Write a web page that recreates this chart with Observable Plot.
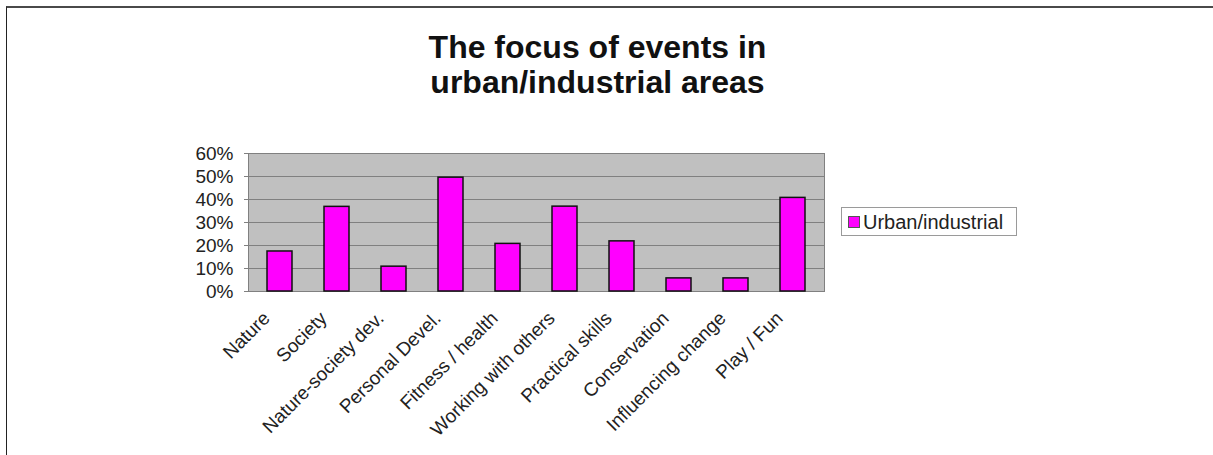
<!DOCTYPE html>
<html>
<head>
<meta charset="utf-8">
<script src="https://cdn.jsdelivr.net/npm/d3@7"></script>
<script src="https://cdn.jsdelivr.net/npm/@observablehq/plot@0.6"></script>
<style>
  html, body { margin: 0; padding: 0; background: #fff; }
  body { width: 1213px; height: 455px; overflow: hidden; position: relative; font-family: "Liberation Sans", Arial, sans-serif; }
  #border { position: absolute; left: 6px; top: 6px; right: -10px; bottom: -10px; border-top: 2px solid #4a4a4a; border-left: 1px solid #222; }
  #title { position: absolute; left: 0; width: 1195px; top: 30px; text-align: center; font-size: 32px; font-weight: bold; line-height: 35px; color: #111; }
  #chart { position: absolute; left: 0; top: 0; }
  #legend { position: absolute; left: 841px; top: 207px; width: 176px; height: 29px; box-sizing: border-box; border: 1px solid #9a9a9a; background: #fff; }
  #legend .sw { position: absolute; left: 6px; top: 8px; width: 12px; height: 12px; background: #ff00ff; border: 1px solid #555; box-sizing: border-box; }
  #legend .lb { position: absolute; left: 21px; top: 3px; font-size: 20px; line-height: 22px; color: #222; white-space: nowrap; }
</style>
</head>
<body>
<div id="border"></div>
<div id="title">The focus of events in<br>urban/industrial areas</div>
<div id="chart"></div>
<div id="legend"><div class="sw"></div><div class="lb" id="legendLabel"></div></div>
<script>
const categories = ["Nature", "Society", "Nature-society dev.", "Personal Devel.", "Fitness / health", "Working with others", "Practical skills", "Conservation", "Influencing change", "Play / Fun"];
const urbanIndustrial = [17.4, 36.8, 10.8, 49.5, 20.7, 36.9, 21.8, 5.7, 5.7, 40.7];
const yTicks = [0, 10, 20, 30, 40, 50, 60];
const seriesName = "Urban/industrial";

document.getElementById("legendLabel").textContent = seriesName;

const data = categories.map((c, i) => ({category: c, value: urbanIndustrial[i]}));

const chart = Plot.plot({
  width: 1213,
  height: 455,
  marginTop: 153,
  marginBottom: 164,
  marginLeft: 248,
  marginRight: 389,
  style: {fontFamily: '"Liberation Sans", Arial, sans-serif', fontSize: "19px", background: "transparent", overflow: "visible"},
  x: {domain: categories, paddingInner: 0.57, paddingOuter: 0.285, axis: null},
  y: {domain: [0, 60], axis: null},
  marks: [
    Plot.frame({fill: "#c0c0c0", stroke: null}),
    Plot.gridY(yTicks, {stroke: "#808080", strokeOpacity: 1, strokeWidth: 1}),
    Plot.frame({stroke: "#808080", strokeWidth: 1}),
    Plot.barY(data, {x: "category", y: "value", fill: "#ff00ff", stroke: "#111", strokeWidth: 1.5}),
    Plot.axisY(yTicks, {label: null, tickFormat: d => d + "%", tickSize: 4, tickPadding: 11, fontSize: 19, fill: "#222", stroke: "#808080"}),
    Plot.text(categories, {x: d => d, frameAnchor: "bottom", rotate: -45, textAnchor: "end", lineAnchor: "bottom", dx: -9, dy: 28, fontSize: 19, fill: "#222"})
  ]
});
document.getElementById("chart").appendChild(chart);
</script>
</body>
</html>
